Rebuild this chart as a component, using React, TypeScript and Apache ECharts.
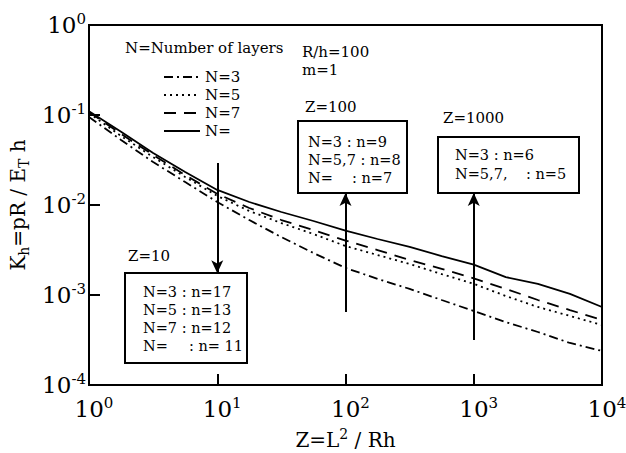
import React, { useEffect, useRef } from "react";
import * as echarts from "echarts";

const FONT = "DejaVu Serif";

// Z = L^2 / Rh sample points (shared by every curve)
const zValues = [1, 1.778, 3.162, 5.623, 10, 17.78, 31.62, 56.23, 100, 177.8, 316.2, 562.3, 1000, 1778, 3162, 5623, 10000];

// Kh = pR / (E_T h) for each number of layers
const kN3 = [0.095, 0.0528, 0.03, 0.018, 0.0108, 0.0068, 0.0044, 0.00293, 0.002, 0.00151, 0.00117, 0.00088, 0.000664, 0.0005, 0.000388, 0.000293, 0.000239];
const kN5 = [0.105, 0.0585, 0.0341, 0.0205, 0.0126, 0.00858, 0.0063, 0.00476, 0.0035, 0.00278, 0.00221, 0.00171, 0.00133, 0.000975, 0.000736, 0.000585, 0.000464];
const kN7 = [0.108, 0.0616, 0.036, 0.0215, 0.0133, 0.00926, 0.00681, 0.00527, 0.00403, 0.00316, 0.00245, 0.00195, 0.00153, 0.00117, 0.00088, 0.00068, 0.000527];
const kNinf = [0.11, 0.065, 0.0378, 0.0233, 0.0147, 0.0108, 0.00836, 0.00664, 0.0052, 0.00419, 0.00342, 0.00271, 0.00218, 0.00158, 0.00133, 0.00103, 0.000736];

const seriesNames = ["N=3", "N=5", "N=7", "N="];

// annotation arrows: Z position, tail value, head value
const arrowZ = [10, 100, 1000];
const arrowFrom = [0.0293, 0.000647, 0.000316];
const arrowTo = [0.00175, 0.0136, 0.0136];

const pairs = (ks: number[]) => zValues.map((z, i) => [z, ks[i]]);

const tickFormatter = (v: number) => `{b|10}{s|${Math.round(Math.log10(v))}}`;
const tickRich = {
  b: { fontSize: 23, fontFamily: FONT, color: "#000", lineHeight: 28 },
  s: { fontSize: 15, fontFamily: FONT, color: "#000", verticalAlign: "top", lineHeight: 13 },
};

const txt = (x: number, y: number, text: string, size = 15) => ({
  type: "text",
  x,
  y,
  z: 20,
  style: { text, fontSize: size, fontFamily: FONT, fill: "#000", align: "left", verticalAlign: "middle" },
});

const box = (x: number, y: number, w: number, h: number) => ({
  type: "rect",
  z: 15,
  shape: { x, y, width: w, height: h },
  style: { fill: "#fff", stroke: "#000", lineWidth: 2 },
});

const BOX_FONT = 14.5;

export default function App() {
  const ref = useRef<HTMLDivElement>(null);

  useEffect(() => {
    if (!ref.current) return;
    const chart = echarts.init(ref.current, undefined, { renderer: "svg" });

    const lineBase = (name: string, data: number[][], type: any) => ({
      name,
      type: "line",
      data,
      showSymbol: false,
      symbol: "none",
      silent: true,
      lineStyle: { color: "#000", width: 1.8, type },
      itemStyle: { color: "#000" },
    });

    const option: any = {
      animation: false,
      backgroundColor: "#fff",
      textStyle: { fontFamily: FONT, color: "#000" },
      grid: {
        left: 89,
        top: 25,
        width: 513,
        height: 360,
        show: true,
        borderColor: "#000",
        borderWidth: 2,
        backgroundColor: "transparent",
        containLabel: false,
        outerBoundsMode: "none",
      },
      legend: {
        orient: "vertical",
        left: 158,
        top: 63,
        itemWidth: 36,
        itemHeight: 18,
        itemGap: 0,
        selectedMode: false,
        data: seriesNames,
        itemStyle: { opacity: 0 },
        lineStyle: { width: 2 },
        textStyle: { fontFamily: FONT, fontSize: 15, color: "#000", lineHeight: 18 },
      },
      xAxis: {
        type: "log",
        logBase: 10,
        min: 1,
        max: 10000,
        axisLine: { show: true, lineStyle: { color: "#000", width: 2 } },
        axisTick: { show: true, inside: true, length: 11, lineStyle: { color: "#000", width: 2 } },
        minorTick: { show: false },
        splitLine: { show: false },
        axisLabel: { margin: 10, formatter: tickFormatter, rich: tickRich, padding: [0, 0, 0, 10] },
        name: "Z=L{sup|2} / Rh",
        nameLocation: "middle",
        nameGap: 42,
        nameMoveOverlap: false,
        nameTextStyle: {
          fontFamily: FONT,
          fontSize: 20,
          color: "#000",
          lineHeight: 26,
          rich: { sup: { fontSize: 14, fontFamily: FONT, color: "#000", verticalAlign: "top", lineHeight: 13 } },
        },
      },
      yAxis: {
        type: "log",
        logBase: 10,
        min: 0.0001,
        max: 1,
        axisLine: { show: true, lineStyle: { color: "#000", width: 2 } },
        axisTick: { show: true, inside: true, length: 11, lineStyle: { color: "#000", width: 2 } },
        minorTick: { show: false },
        splitLine: { show: false },
        axisLabel: { margin: 3, formatter: tickFormatter, rich: tickRich },
        name: "K{sub|h}=pR / E{sub|T} h",
        nameLocation: "middle",
        nameRotate: 90,
        nameGap: 58,
        nameMoveOverlap: false,
        nameTextStyle: {
          fontFamily: FONT,
          fontSize: 20,
          color: "#000",
          lineHeight: 26,
          rich: { sub: { fontSize: 14, fontFamily: FONT, color: "#000", verticalAlign: "bottom", lineHeight: 13 } },
        },
      },
      series: [
        lineBase(seriesNames[0], pairs(kN3), [9, 4, 2, 4]),
        lineBase(seriesNames[1], pairs(kN5), [2, 4]),
        lineBase(seriesNames[2], pairs(kN7), [12, 8]),
        {
          ...lineBase(seriesNames[3], pairs(kNinf), "solid"),
          markLine: {
            silent: true,
            symbol: ["none", "arrow"],
            symbolSize: [9, 13],
            label: { show: false },
            emphasis: { disabled: true },
            lineStyle: { color: "#000", width: 2, type: "solid" },
            data: arrowZ.map((z, i) => [{ coord: [z, arrowFrom[i]] }, { coord: [z, arrowTo[i]] }]),
          },
        },
      ],
      graphic: [
        txt(125, 48, "N=Number of layers"),
        txt(302, 52, "R/h=100"),
        txt(302, 70, "m=1"),
        txt(305, 107, "Z=100"),
        txt(443, 118, "Z=1000"),
        txt(128, 256, "Z=10"),
        box(125, 273, 122, 90),
        txt(143, 292, "N=3 : n=17", BOX_FONT),
        txt(143, 310, "N=5 : n=13", BOX_FONT),
        txt(143, 328, "N=7 : n=12", BOX_FONT),
        txt(143, 346, "N=", BOX_FONT),
        txt(189, 346, ": n= 11", BOX_FONT),
        box(298, 121, 109, 72),
        txt(308, 142, "N=3 : n=9", BOX_FONT),
        txt(308, 160, "N=5,7 : n=8", BOX_FONT),
        txt(308, 178, "N=", BOX_FONT),
        txt(352, 178, ": n=7", BOX_FONT),
        box(438, 137, 141, 56),
        txt(455, 155, "N=3 : n=6", BOX_FONT),
        txt(455, 174, "N=5,7,", BOX_FONT),
        txt(526, 174, ": n=5", BOX_FONT),
      ],
    };

    chart.setOption(option);
    return () => chart.dispose();
  }, []);

  return <div ref={ref} style={{ position: "absolute", left: 0, top: 0, width: 626, height: 453 }} />;
}
